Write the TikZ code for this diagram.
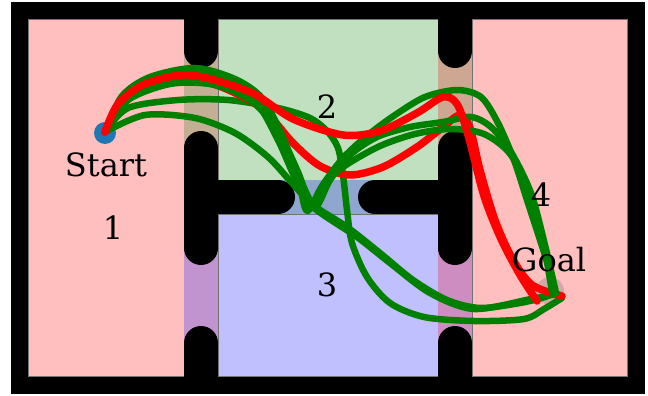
\documentclass[tikz,border=0pt]{standalone}
\usepackage{fontspec}
\setmainfont{DejaVu Serif}
\usepackage{xcolor}
\definecolor{roompink}{RGB}{255,191,191}
\definecolor{roomgreen}{RGB}{192,224,192}
\definecolor{roomblue}{RGB}{192,192,255}
\definecolor{doortan}{RGB}{194,175,148}
\definecolor{doorrose}{RGB}{205,167,146}
\definecolor{doorpurple}{RGB}{194,148,207}
\definecolor{doormauve}{RGB}{205,141,192}
\definecolor{doorblue}{RGB}{143,167,207}
\definecolor{startblue}{RGB}{31,119,180}
\definecolor{pathgreen}{RGB}{0,128,0}

\begin{document}
\begin{tikzpicture}[x=1pt, y=-1pt,
    room/.style={draw=black!55, line width=0.6pt},
    wall/.style={line width=34pt, line cap=round, draw=black},
    greenpath/.style={draw=pathgreen, line width=6.5pt, line cap=round, line join=round},
    redpath/.style={draw=red, line width=7.5pt, line cap=round, line join=round},
    roomlabel/.style={font=\fontsize{32}{38}\selectfont, anchor=base, inner sep=0pt}
]
\useasboundingbox (0,0) rectangle (648,396);

% Frame
\fill[black] (11,2) rectangle (645,394);

% Rooms
\filldraw[room, fill=roompink] (28,19) rectangle (184,376);
\filldraw[room, fill=roomgreen] (218,19) rectangle (438,180);
\filldraw[room, fill=roomblue] (218,214) rectangle (438,376);
\filldraw[room, fill=roompink] (472,19) rectangle (627,376);

% Doors
\fill[doortan] (184,19) rectangle (218,197);
\fill[doorpurple] (184,197) rectangle (218,376);
\fill[doorrose] (438,19) rectangle (472,197);
\fill[doormauve] (438,197) rectangle (472,376);
\fill[doorblue] (218,180) rectangle (438,214);

% Walls
\foreach \x in {201,455} {
  \draw[wall] (\x,19) -- (\x,51);
  \draw[wall] (\x,148) -- (\x,248);
  \draw[wall] (\x,343) -- (\x,376);
}
\draw[wall] (201,197) -- (278,197);
\draw[wall] (375,197) -- (455,197);

% Start and goal
\node[circle, fill=startblue, minimum size=22pt, inner sep=0pt] (start) at (105,133) {};
\node[circle, fill=gray, opacity=0.35, minimum size=28pt, inner sep=0pt] (goal) at (550,291) {};

% Paths through room 3
\draw[greenpath] plot[smooth] coordinates {(105,132) (145,115) (195,118) (235,133) (268,157) (292,183) (313,205) (347,227) (380,253) (413,280) (447,300) (480,308) (520,303) (545,297) (555,292)};
\draw[greenpath] plot[smooth] coordinates {(105,132) (135,90) (180,72) (225,80) (255,100) (278,140) (296,180) (313,207) (357,237) (390,263) (430,293) (474,309) (531,299) (556,294)};
\draw[greenpath] plot[smooth] coordinates {(105,132) (128,108) (178,100) (228,100) (278,108) (310,118) (327,131) (338,148) (343,175) (347,210) (352,243) (367,277) (390,303) (424,317) (474,321) (524,319) (544,309) (562,298)};

% Red paths
\draw[redpath] plot[smooth] coordinates {(105,132) (122,100) (160,80) (210,83) (260,107) (293,143) (320,166) (350,175) (383,167) (417,147) (443,127) (460,115) (470,128) (480,170) (495,220) (512,258) (532,285) (562,296)};

% Paths through room 4
\draw[greenpath] plot[smooth] coordinates {(105,132) (122,96) (150,77) (195,68) (235,79) (262,98) (282,135) (298,178) (307,211) (322,186) (343,158) (368,135) (395,115) (425,97) (457,90) (481,97) (498,123) (514,160) (527,200) (540,240) (550,272) (553,295)};
\draw[greenpath] plot[smooth] coordinates {(105,132) (128,100) (170,84) (210,84) (245,96) (270,118) (290,155) (305,190) (316,207) (330,180) (350,155) (377,137) (410,127) (443,122) (471,117) (491,127) (511,152) (531,193) (545,245) (556,293)};
\draw[greenpath] plot[smooth] coordinates {(105,132) (130,98) (175,82) (220,86) (255,104) (280,135) (298,172) (311,203) (326,182) (346,165) (380,146) (415,134) (450,129) (484,134) (511,155) (530,197) (544,247) (552,292)};

\draw[redpath] plot[smooth] coordinates {(105,132) (118,104) (145,84) (190,75) (250,92) (293,119) (343,135) (380,131) (417,113) (443,97) (457,104) (468,135) (484,196) (501,239) (520,275) (537,301)};

% Labels
\node[roomlabel] (startlabel) at (106,176) {Start};
\node[roomlabel] (goallabel) at (549,271) {Goal};
\node[roomlabel] (r1) at (113,239) {1};
\node[roomlabel] (r2) at (327,118) {2};
\node[roomlabel] (r3) at (327,296) {3};
\node[roomlabel] (r4) at (541,206) {4};

\end{tikzpicture}
\end{document}
